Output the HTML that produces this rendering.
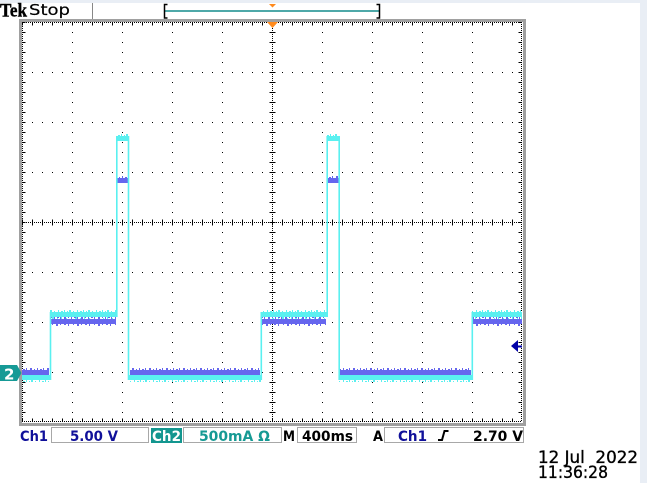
<!DOCTYPE html>
<html>
<head>
<meta charset="utf-8">
<style>
  html,body{margin:0;padding:0;background:#fff;overflow:hidden;}
  svg{display:block;}
</style>
</head>
<body>
<svg width="647" height="483" viewBox="0 0 647 483" xmlns="http://www.w3.org/2000/svg">
  <defs>
    <pattern id="nzC" patternUnits="userSpaceOnUse" width="19" height="2">
      <rect x="1" y="0" width="1" height="2" fill="#5af0f0"/>
      <rect x="4" y="1" width="2" height="1" fill="#5af0f0"/>
      <rect x="7" y="0" width="1" height="2" fill="#5af0f0"/>
      <rect x="10" y="1" width="1" height="1" fill="#5af0f0"/>
      <rect x="12" y="0" width="2" height="2" fill="#5af0f0"/>
      <rect x="16" y="1" width="1" height="1" fill="#5af0f0"/>
    </pattern>
    <pattern id="nzC2" patternUnits="userSpaceOnUse" width="23" height="2">
      <rect x="2" y="0" width="1" height="1" fill="#5af0f0"/>
      <rect x="6" y="0" width="2" height="2" fill="#5af0f0"/>
      <rect x="11" y="0" width="1" height="1" fill="#5af0f0"/>
      <rect x="15" y="0" width="1" height="2" fill="#5af0f0"/>
      <rect x="19" y="0" width="2" height="1" fill="#5af0f0"/>
    </pattern>
    <pattern id="nzB" patternUnits="userSpaceOnUse" width="17" height="2">
      <rect x="0" y="1" width="1" height="1" fill="#6666ee"/>
      <rect x="3" y="0" width="1" height="2" fill="#6666ee"/>
      <rect x="6" y="1" width="2" height="1" fill="#6666ee"/>
      <rect x="9" y="0" width="1" height="2" fill="#6666ee"/>
      <rect x="13" y="0" width="2" height="2" fill="#6666ee"/>
    </pattern>
    <pattern id="nzB2" patternUnits="userSpaceOnUse" width="21" height="2">
      <rect x="1" y="0" width="2" height="1" fill="#6666ee"/>
      <rect x="5" y="0" width="1" height="2" fill="#6666ee"/>
      <rect x="10" y="0" width="1" height="1" fill="#6666ee"/>
      <rect x="14" y="0" width="2" height="2" fill="#6666ee"/>
      <rect x="18" y="0" width="1" height="1" fill="#6666ee"/>
    </pattern>
  </defs>

  <rect x="0" y="0" width="647" height="483" fill="#ffffff"/>
  <rect x="0" y="0" width="647" height="3" fill="#e9eef5"/>
  <rect x="640" y="0" width="7" height="483" fill="#e9eef5"/>

  <!-- header -->
  <text x="0" y="16.5" font-family="Liberation Serif, serif" font-weight="bold" font-size="19" textLength="27" lengthAdjust="spacingAndGlyphs" fill="#000" stroke="#000" stroke-width="0.4">Tek</text>
  <text x="29" y="15" font-family="DejaVu Sans, sans-serif" font-size="15.5" textLength="41" lengthAdjust="spacingAndGlyphs" fill="#000" stroke="#000" stroke-width="0.2">Stop</text>
  <line x1="92.5" y1="3" x2="92.5" y2="19" stroke="#888" stroke-width="1"/>
  <line x1="165" y1="11" x2="379" y2="11" stroke="#148c8c" stroke-width="1.5"/>
  <path d="M167.5,4.5 H164.5 V18 H167.5" stroke="#000" stroke-width="1.5" fill="none"/>
  <path d="M376.5,4.5 H379.5 V18 H376.5" stroke="#000" stroke-width="1.5" fill="none"/>
  <polygon points="269,4 276,4 272.5,7.5" fill="#ff8a1c"/>

  <!-- graticule border -->
  <rect x="20.5" y="20.5" width="504" height="404" fill="none" stroke="#a0a0a0" stroke-width="3"/>

  <!-- inner border dotted + ticks -->
  <g stroke="#000" fill="none">
    <line x1="22" y1="22.5" x2="522" y2="22.5" stroke-width="1" stroke-dasharray="1 1"/>
    <line x1="22" y1="421.5" x2="522" y2="421.5" stroke-width="1" stroke-dasharray="1 1"/>
    <line x1="22.5" y1="22" x2="22.5" y2="422" stroke-width="1" stroke-dasharray="1 1"/>
    <line x1="521.5" y1="22" x2="521.5" y2="422" stroke-width="1" stroke-dasharray="1 1"/>
    <line x1="22" y1="24" x2="522" y2="24" stroke-width="3" stroke-dasharray="1 9"/>
    <line x1="22" y1="420" x2="522" y2="420" stroke-width="3" stroke-dasharray="1 9"/>
    <line x1="24" y1="22" x2="24" y2="422" stroke-width="3" stroke-dasharray="1 9"/>
    <line x1="520" y1="22" x2="520" y2="422" stroke-width="3" stroke-dasharray="1 9"/>

    <g stroke-width="1" stroke-dasharray="1 9">
      <line x1="72.5" y1="22" x2="72.5" y2="422"/>
      <line x1="122.5" y1="22" x2="122.5" y2="422"/>
      <line x1="172.5" y1="22" x2="172.5" y2="422"/>
      <line x1="222.5" y1="22" x2="222.5" y2="422"/>
      <line x1="322.5" y1="22" x2="322.5" y2="422"/>
      <line x1="372.5" y1="22" x2="372.5" y2="422"/>
      <line x1="422.5" y1="22" x2="422.5" y2="422"/>
      <line x1="472.5" y1="22" x2="472.5" y2="422"/>
      <line x1="22" y1="72.5" x2="522" y2="72.5"/>
      <line x1="22" y1="122.5" x2="522" y2="122.5"/>
      <line x1="22" y1="172.5" x2="522" y2="172.5"/>
      <line x1="22" y1="272.5" x2="522" y2="272.5"/>
      <line x1="22" y1="322.5" x2="522" y2="322.5"/>
      <line x1="22" y1="372.5" x2="522" y2="372.5"/>
    </g>
    <line x1="272.5" y1="22" x2="272.5" y2="422" stroke-width="1" stroke-dasharray="1 1"/>
    <line x1="22" y1="222.5" x2="522" y2="222.5" stroke-width="1" stroke-dasharray="1 1"/>
    <line x1="272.5" y1="22" x2="272.5" y2="422" stroke-width="6" stroke-dasharray="1 9"/>
    <line x1="22" y1="222.5" x2="522" y2="222.5" stroke-width="6" stroke-dasharray="1 9"/>
  </g>

  <polygon points="267,22 278,22 272.5,28" fill="#ff8a1c"/>

  <!-- Ch2 (cyan) bands -->
  <g fill="#5af0f0">
    <rect x="22" y="375" width="28" height="5"/>
    <rect x="50" y="312" width="66" height="5"/>
    <rect x="116" y="136" width="13" height="5"/>
    <rect x="129" y="375" width="132" height="5"/>
    <rect x="261" y="312" width="66" height="5"/>
    <rect x="327" y="136" width="12" height="5"/>
    <rect x="339" y="375" width="133" height="5"/>
    <rect x="472" y="312" width="50" height="5"/>
  </g>
  <g fill="url(#nzC)">
    <rect x="22" y="380" width="28" height="2"/>
    <rect x="50" y="310" width="66" height="2"/>
    <rect x="116" y="134" width="13" height="2"/>
    <rect x="129" y="380" width="132" height="2"/>
    <rect x="261" y="310" width="66" height="2"/>
    <rect x="327" y="134" width="12" height="2"/>
    <rect x="339" y="380" width="133" height="2"/>
    <rect x="472" y="310" width="50" height="2"/>
  </g>
  <g fill="url(#nzC2)">
    <rect x="50" y="317" width="66" height="2"/>
    <rect x="261" y="317" width="66" height="2"/>
    <rect x="472" y="317" width="50" height="2"/>
  </g>

  <!-- Ch1 (blue) bands -->
  <g fill="#6666ee">
    <rect x="22" y="370" width="27" height="5"/>
    <rect x="51" y="319" width="65" height="5"/>
    <rect x="117" y="178" width="11" height="5"/>
    <rect x="130" y="370" width="130" height="5"/>
    <rect x="262" y="319" width="64" height="5"/>
    <rect x="328" y="178" width="11" height="5"/>
    <rect x="340" y="370" width="131" height="5"/>
    <rect x="473" y="319" width="49" height="5"/>
  </g>
  <g fill="url(#nzB)">
    <rect x="22" y="368" width="27" height="2"/>
    <rect x="51" y="317" width="65" height="2"/>
    <rect x="117" y="176" width="11" height="2"/>
    <rect x="130" y="368" width="130" height="2"/>
    <rect x="262" y="317" width="64" height="2"/>
    <rect x="328" y="176" width="11" height="2"/>
    <rect x="340" y="368" width="131" height="2"/>
    <rect x="473" y="317" width="49" height="2"/>
  </g>
  <g fill="url(#nzB2)">
    <rect x="51" y="324" width="65" height="2"/>
    <rect x="262" y="324" width="64" height="2"/>
    <rect x="473" y="324" width="49" height="2"/>
  </g>

  <!-- Ch2 vertical edges -->
  <g stroke="#5af0f0" stroke-width="1.6">
    <line x1="50.5" y1="312" x2="50.5" y2="380"/>
    <line x1="116.8" y1="136" x2="116.8" y2="317"/>
    <line x1="128.5" y1="136" x2="128.5" y2="380"/>
    <line x1="261.3" y1="312" x2="261.3" y2="380"/>
    <line x1="327.2" y1="136" x2="327.2" y2="317"/>
    <line x1="339.2" y1="136" x2="339.2" y2="380"/>
    <line x1="472.3" y1="312" x2="472.3" y2="380"/>
  </g>

  <!-- left marker "2" -->
  <polygon points="0,365 17,365 21.5,373 17,381 0,381" fill="#169a96"/>
  <text x="4" y="379.5" font-family="DejaVu Sans, sans-serif" font-weight="bold" font-size="15" fill="#fff">2</text>

  <!-- right trigger marker -->
  <polygon points="511,346 518,340 518,352" fill="#0000a8"/>
  <line x1="517" y1="346.5" x2="522" y2="346.5" stroke="#0000a8" stroke-width="2"/>

  <!-- bottom bar -->
  <g font-family="DejaVu Sans, sans-serif" font-weight="bold" font-size="14">
    <text x="20" y="441" fill="#10109a" textLength="28" lengthAdjust="spacingAndGlyphs">Ch1</text>
    <rect x="51.5" y="427.5" width="97" height="15" fill="#fff" stroke="#a8a8a8" stroke-width="1"/>
    <text x="70" y="441" fill="#10109a" textLength="48" lengthAdjust="spacingAndGlyphs">5.00 V</text>

    <rect x="151" y="428" width="31" height="15" fill="#13968f"/>
    <text x="152" y="441" fill="#fff" textLength="29" lengthAdjust="spacingAndGlyphs">Ch2</text>

    <rect x="183.5" y="427.5" width="98" height="15" fill="#fff" stroke="#a8a8a8" stroke-width="1"/>
    <text x="199" y="441" fill="#169a94" textLength="71" lengthAdjust="spacingAndGlyphs">500mA Ω</text>

    <text x="283" y="441" fill="#000" textLength="12" lengthAdjust="spacingAndGlyphs">M</text>
    <rect x="297.5" y="427.5" width="59" height="15" fill="#fff" stroke="#a8a8a8" stroke-width="1"/>
    <text x="302" y="441" fill="#000" textLength="51" lengthAdjust="spacingAndGlyphs">400ms</text>

    <text x="373" y="441" fill="#000" textLength="10" lengthAdjust="spacingAndGlyphs">A</text>
    <rect x="384.5" y="427.5" width="139" height="15" fill="#fff" stroke="#a8a8a8" stroke-width="1"/>
    <text x="398" y="441" fill="#10109a" textLength="29" lengthAdjust="spacingAndGlyphs">Ch1</text>
    <text x="473" y="441" fill="#000" textLength="50" lengthAdjust="spacingAndGlyphs">2.70 V</text>
  </g>
  <path d="M438,440 L442,440 L444.5,431 L448.5,431" stroke="#000" stroke-width="2" fill="none"/>

  <g font-family="DejaVu Sans, sans-serif" font-size="17" fill="#000" stroke="#000" stroke-width="0.35">
    <text x="538" y="463" textLength="100" lengthAdjust="spacingAndGlyphs" xml:space="preserve">12 Jul  2022</text>
    <text x="538" y="478" textLength="70" lengthAdjust="spacingAndGlyphs">11:36:28</text>
  </g>
</svg>
</body>
</html>
